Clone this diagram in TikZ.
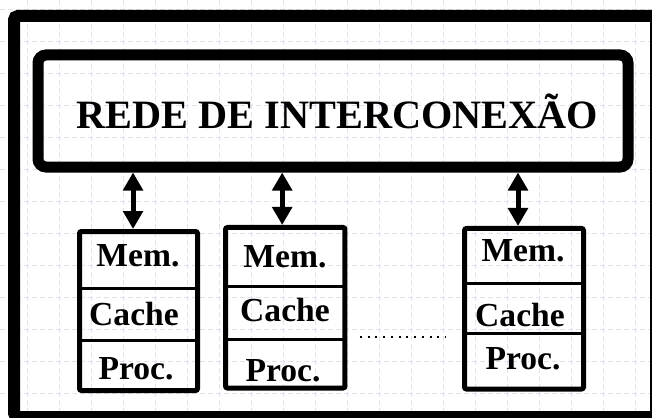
\documentclass[tikz,border=0pt]{standalone}
\usepackage{fontspec}
\setmainfont{Liberation Serif}
\usetikzlibrary{arrows.meta}
\begin{document}
\begin{tikzpicture}[x=.75pt,y=-.75pt,
 grd/.style={draw=blue!30!gray!18, dash pattern=on 4pt off 2pt, line width=.5pt},
 cell/.style={font=\fontsize{25.2}{26}\bfseries\selectfont, inner sep=0pt},
 modbox/.style={draw, line width=3.75pt, rounded corners=1.5pt, inner sep=0pt},
 dv/.style={line width=2.25pt},
 dup/.style={{Triangle[length=13.5pt,width=14.5pt]}-{Triangle[length=13.5pt,width=14.5pt]}, line width=3.75pt}]
\useasboundingbox (0,0) rectangle (652,417);
\fill[white] (0,0) rectangle (652,417);
\foreach \gx in {27,59,...,651} \draw[grd] (\gx,0)--(\gx,417);
\foreach \gy in {9,41,...,416} \draw[grd] (0,\gy)--(652,\gy);
\draw[line width=9pt, rounded corners=3pt] (14,16) rectangle (656,417);
\node[draw, line width=8.25pt, rounded corners=6pt, minimum width=442.5pt, minimum height=84pt] (net) at (333,111) {};
\node[font=\fontsize{30.2}{32}\bfseries\selectfont] (title) at (337.5,111) {REDE DE INTERCONEX\~AO};
\foreach \m/\cx/\cy/\w/\h/\da/\db/\ax in {1/138.5/311/88.5/119.25/288/340/-4.1, 2/285.25/307.75/89.6/120.4/286/339/-2.3, 3/524/308.75/89.25/120.4/283/333/-4.5} {
 \node[modbox, minimum width=\w pt, minimum height=\h pt] (m\m) at (\cx,\cy) {};
 \draw[dv] (m\m.west |- 0,\da) -- (m\m.east |- 0,\da) (m\m.west |- 0,\db) -- (m\m.east |- 0,\db);
 \draw[dup] ([xshift=\ax pt]m\m.north |- net.south) -- ([xshift=\ax pt]m\m.north);
}
\foreach \n/\x/\y/\t in {mem1/138/256/Mem., cache1/134/314/Cache, proc1/136/369/Proc.,
 mem2/285/257/Mem., cache2/285/310/Cache, proc2/283/371/Proc.,
 mem3/523/251/Mem., cache3/520/315/Cache, proc3/523/359/Proc.}
 \node[cell] (\n) at (\x,\y) {\t};
\coordinate (d1) at (360,337); \coordinate (d2) at (446,337);
\draw[line width=1.5pt, dash pattern=on 1.5pt off 4.3pt] (d1) -- (d2);
\end{tikzpicture}
\end{document}
